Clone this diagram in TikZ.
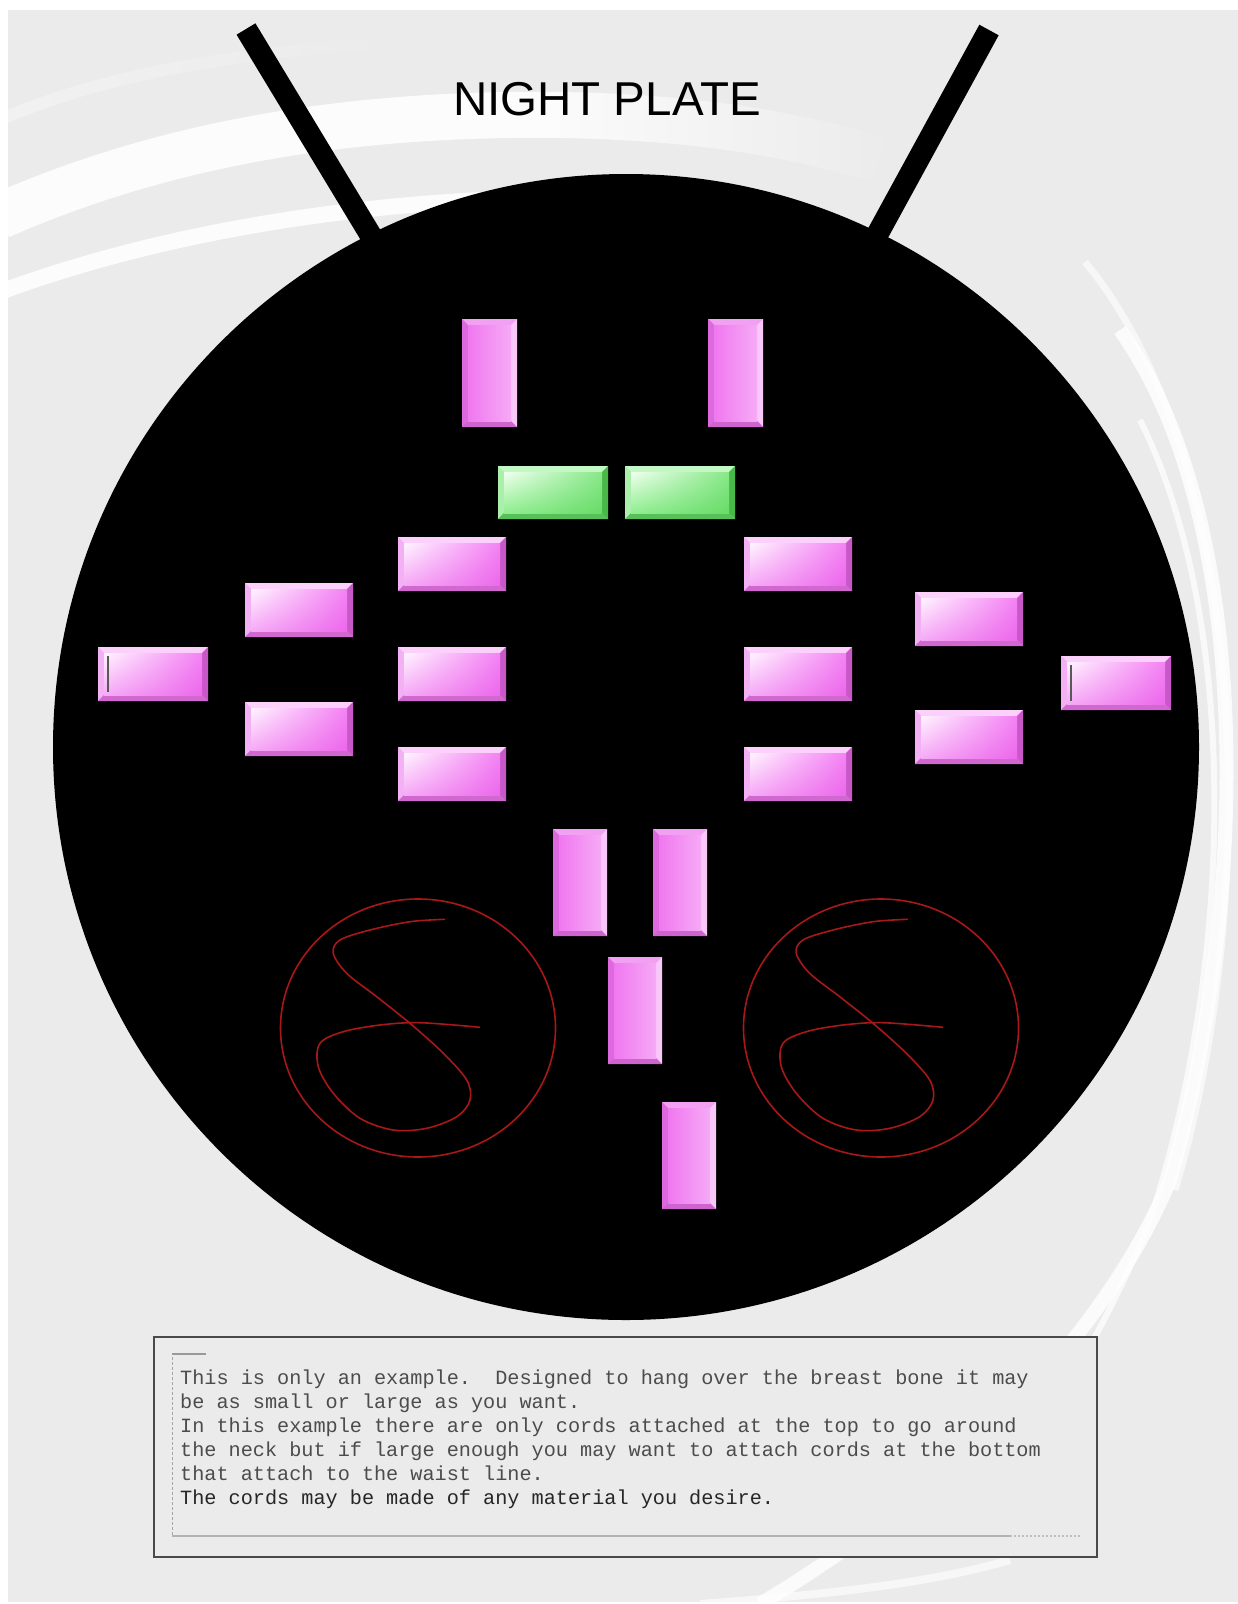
\documentclass[tikz,border=0pt]{standalone}
\usepackage{fontspec}
\usetikzlibrary{shadings,fadings}
\setmainfont{Liberation Sans}
\newfontfamily\boxmono{Liberation Mono}
\definecolor{bggray}{HTML}{EBEBEB}
\definecolor{swirlred}{HTML}{A81818}
\definecolor{boxline}{HTML}{4A4A4A}
\definecolor{boxtext}{HTML}{4C4C4C}
\definecolor{pkbase}{RGB}{236,120,236}
\definecolor{phtopc}{RGB}{251,208,251}
\definecolor{phleftc}{RGB}{244,176,244}
\definecolor{phrightc}{RGB}{200,88,200}
\definecolor{phbotc}{RGB}{208,104,208}
\definecolor{phul}{RGB}{255,244,255}
\definecolor{phur}{RGB}{244,130,244}
\definecolor{phll}{RGB}{246,170,246}
\definecolor{phlr}{RGB}{236,104,236}
\definecolor{pvtopc}{RGB}{242,160,242}
\definecolor{pvleftc}{RGB}{222,104,222}
\definecolor{pvrightc}{RGB}{248,200,248}
\definecolor{pvbotc}{RGB}{206,100,206}
\definecolor{pvl}{RGB}{240,120,240}
\definecolor{pvm}{RGB}{255,236,255}
\definecolor{pvr}{RGB}{246,170,246}
\definecolor{gbasec}{RGB}{110,216,110}
\definecolor{gtopc}{RGB}{196,248,196}
\definecolor{gleftc}{RGB}{170,240,170}
\definecolor{grightc}{RGB}{72,184,72}
\definecolor{gbotc}{RGB}{88,192,88}
\definecolor{gul}{RGB}{240,255,240}
\definecolor{gur}{RGB}{136,232,136}
\definecolor{gll}{RGB}{144,238,144}
\definecolor{glr}{RGB}{104,220,104}
\begin{document}
\begin{tikzpicture}[x=1pt,y=-1pt,
  phbase/.style={fill=pkbase},
  phtop/.style={fill=phtopc},
  phleft/.style={fill=phleftc},
  phright/.style={fill=phrightc},
  phbot/.style={fill=phbotc},
  phface/.style={shading=bilinear interpolation, upper left=phul, upper right=phur,
                 lower left=phll, lower right=phlr},
  pvbase/.style={fill=pkbase},
  pvtop/.style={fill=pvtopc},
  pvleft/.style={fill=pvleftc},
  pvright/.style={fill=pvrightc},
  pvbot/.style={fill=pvbotc},
  pvface/.style={left color=pvl, middle color=pvm, right color=pvr},
  gbase/.style={fill=gbasec},
  gtop/.style={fill=gtopc},
  gleft/.style={fill=gleftc},
  gright/.style={fill=grightc},
  gbot/.style={fill=gbotc},
  gface/.style={shading=bilinear interpolation, upper left=gul, upper right=gur,
                lower left=gll, lower right=glr},
  pics/gem/.style n args={3}{code={
    \fill[#3base] (0,0) rectangle (#1,#2);
    \fill[#3top] (0,0) -- (#1,0) -- ({#1-6},6) -- (6,6) -- cycle;
    \fill[#3left] (0,0) -- (6,6) -- (6,{#2-6}) -- (0,#2) -- cycle;
    \fill[#3right] (#1,0) -- (#1,#2) -- ({#1-6},{#2-6}) -- ({#1-6},6) -- cycle;
    \fill[#3bot] (0,#2) -- (6,{#2-6}) -- ({#1-6},{#2-6}) -- (#1,#2) -- cycle;
    \shade[#3face] (6,6) rectangle ({#1-6},{#2-6});
  }},
  pics/swirl/.style={code={
    \draw[swirlred, line width=1.6] (0,0) ellipse [x radius=137.5, y radius=129];
    \draw[swirlred, line width=1.6] plot[smooth, tension=0.55] coordinates {
      (27,-108.7) (-8,-106.3) (-48,-98) (-78,-88) (-84.7,-74.7) (-71.3,-54.7)
      (-41.3,-31.3) (-8,-4.7) (25.3,25.3) (48.7,52) (52,72) (38.7,88.7)
      (8.7,100.3) (-24.7,102) (-58,90.3) (-84.7,65.3) (-99.7,38.7) (-98,15.3)
      (-74.7,3.7) (-38,-3) (2,-5.3) (62,-0.7)};
  }},
  cord/.style={line width=22, line cap=butt},
  swoosh/.style={white, line cap=butt},
  boxtxt/.style={anchor=base west, inner sep=0, text=boxtext,
                 font=\boxmono\fontsize{20.2}{24}\selectfont}
]
\useasboundingbox (0,0) rectangle (1238,1604);
\fill[white] (0,0) rectangle (1238,1604);
\fill[bggray] (8,10) rectangle (1238,1602);

% background swooshes (top left)
\draw[swoosh, line width=12, opacity=0.35, path fading=east] (0,120) .. controls (100,75) and (250,48) .. (420,42);
\draw[swoosh, line width=46, opacity=0.85] (0,216) .. controls (150,150) and (330,112) .. (560,115);
\draw[swoosh, line width=46, opacity=0.85, path fading=east] (560,115) .. controls (680,117) and (780,130) .. (880,160);
\draw[swoosh, line width=16, opacity=0.85] (0,292) .. controls (100,255) and (260,212) .. (480,200);
% background swooshes (right and bottom)
\draw[swoosh, line width=7, opacity=0.6] (1085,262) .. controls (1250,460) and (1262,900) .. (1175,1190);
\draw[swoosh, line width=14, opacity=0.8] (1120,330) .. controls (1255,520) and (1250,900) .. (1170,1180)
  .. controls (1120,1300) and (1000,1460) .. (760,1604);
\draw[swoosh, line width=6, opacity=0.7] (1140,420) .. controls (1240,620) and (1235,960) .. (1150,1220)
  .. controls (1110,1320) and (1060,1400) .. (1030,1440);
\draw[swoosh, line width=8, opacity=0.6] (1010,1560) .. controls (940,1580) and (860,1592) .. (700,1604);

% cords
\draw[cord] (246,29) -- (376,244);
\draw[cord] (989,30) -- (871,246);

% plate
\fill[black] (626,747) circle [radius=573];

% title
\node[font=\fontsize{47.5}{50}\selectfont, inner sep=0, anchor=base] (title) at (607,115) {NIGHT PLATE};

% gems
\pic (vtl) at (462,319) {gem={55}{108}{pv}};
\pic (vtr) at (708,319) {gem={55}{108}{pv}};
\pic (gl) at (498,466) {gem={110}{53}{g}};
\pic (gr) at (625,466) {gem={110}{53}{g}};
\pic (l1) at (398,537) {gem={108}{54}{ph}};
\pic (l2) at (398,647) {gem={108}{54}{ph}};
\pic (l3) at (398,747) {gem={108}{54}{ph}};
\pic (m1) at (245,583) {gem={108}{54}{ph}};
\pic (m2) at (245,702) {gem={108}{54}{ph}};
\pic (fl) at (98,647) {gem={110}{54}{ph}};
\pic (r1) at (744,537) {gem={108}{54}{ph}};
\pic (r2) at (744,647) {gem={108}{54}{ph}};
\pic (r3) at (744,747) {gem={108}{54}{ph}};
\pic (n1) at (915,592) {gem={108}{54}{ph}};
\pic (n2) at (915,710) {gem={108}{54}{ph}};
\pic (fr) at (1061,656) {gem={110}{54}{ph}};
\pic (b1) at (553,829) {gem={54}{107}{pv}};
\pic (b2) at (653,829) {gem={54}{107}{pv}};
\pic (b3) at (608,957) {gem={54}{107}{pv}};
\pic (b4) at (662,1102) {gem={54}{107}{pv}};
% small dark marks in the outer gems
\draw[gray!70!black, line width=1.5] (108,656) -- (108,692);
\draw[gray!70!black, line width=1.5] (1071,665) -- (1071,701);

% swirls
\pic (sl) at (418,1028) {swirl};
\pic (sr) at (881,1028) {swirl};

% text box
\draw[boxline, line width=1.6, fill=bggray] (154,1337) rectangle (1097,1557);
\draw[gray!80, line width=1.2] (172,1354) -- (206,1354);
\draw[gray!70, line width=0.8, dash pattern=on 3pt off 2pt] (172,1357) -- (172,1535);
\draw[gray!60, line width=2.5] (172,1536) -- (1010,1536);
\draw[gray!50, line width=2, dash pattern=on 2pt off 2pt] (1010,1536) -- (1080,1536);
\node[boxtxt] (t1) at (180,1384) {This is only an example.\ \ Designed to hang over the breast bone it may};
\node[boxtxt] (t2) at (180,1408) {be as small or large as you want.};
\node[boxtxt] (t3) at (180,1432) {In this example there are only cords attached at the top to go around};
\node[boxtxt] (t4) at (180,1456) {the neck but if large enough you may want to attach cords at the bottom};
\node[boxtxt] (t5) at (180,1480) {that attach to the waist line.};
\node[boxtxt, text=black!85] (t6) at (180,1504) {The cords may be made of any material you desire.};
\end{tikzpicture}
\end{document}
